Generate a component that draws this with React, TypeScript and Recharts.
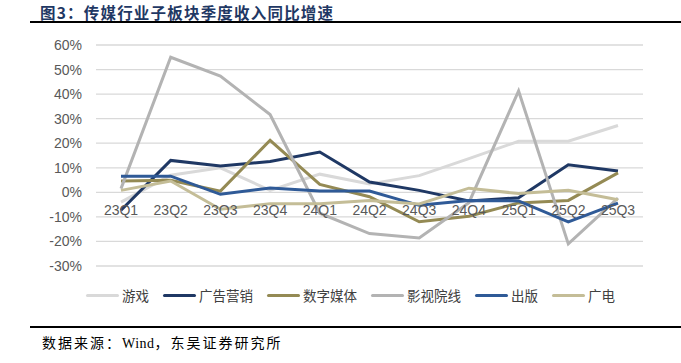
import { LineChart, Line, XAxis, YAxis, CartesianGrid } from 'recharts'

const quarters = ['23Q1', '23Q2', '23Q3', '23Q4', '24Q1', '24Q2', '24Q3', '24Q4', '25Q1', '25Q2', '25Q3']

// 同比增速（%）
const youxi = [-4, 7, 10, 0.8, 7.4, 3.4, 6.8, 13.7, 20.8, 20.8, 27.2]
const guanggao = [-7.3, 13, 10.7, 12.6, 16.4, 4.2, 0.8, -3.5, -2.2, 11.2, 8.7]
const shuzi = [4.6, 4.9, 0.5, 21.2, 3.2, -1.8, -12, -9.7, -4.3, -3.3, 7.9]
const yingshi = [1.5, 55, 47.3, 31.7, -8.5, -16.8, -18.6, -4.2, 41.3, -21, -2.4]
const chuban = [6.6, 6.6, -0.8, 1.8, 0.5, 0.5, -5.3, -3.3, -3.5, -12, -4.4]
const guangdian = [0.8, 4.6, -6.9, -4.6, -4.6, -3.3, -4.7, 1.7, -0.5, 0.8, -3]

const yTicks = [-30, -20, -10, 0, 10, 20, 30, 40, 50, 60]

const series = [
  { key: 'youxi', name: '游戏', color: '#d9d9d9', values: youxi },
  { key: 'guanggao', name: '广告营销', color: '#1f3864', values: guanggao },
  { key: 'shuzi', name: '数字媒体', color: '#948a54', values: shuzi },
  { key: 'yingshi', name: '影视院线', color: '#b3b3b3', values: yingshi },
  { key: 'chuban', name: '出版', color: '#2f5a97', values: chuban },
  { key: 'guangdian', name: '广电', color: '#c4bd97', values: guangdian },
]

const data = quarters.map((q, i) => {
  const row: Record<string, string | number> = { q }
  series.forEach(s => { row[s.key] = s.values[i] })
  return row
})

const cjk = '"Noto Sans CJK SC", sans-serif'
const arial = "Arial, 'Liberation Sans', sans-serif"

// x轴标签画在 0% 线下方（Excel 默认的横轴位置）
function QuarterTick({ x, y, payload }: { x?: number; y?: number; payload?: { value: string } }) {
  return (
    <text x={x} y={(y ?? 0) - 51} textAnchor="middle" fill="#595959" fontSize={14} fontFamily={arial}>
      {payload?.value}
    </text>
  )
}

function ChartLegend() {
  return (
    <div style={{ position: 'absolute', left: 20, width: 661, top: 285, display: 'flex', justifyContent: 'center', gap: 14, fontFamily: cjk, fontSize: 13.5, color: '#404040', lineHeight: '20px' }}>
      {series.map(s => (
        <div key={s.key} style={{ display: 'flex', alignItems: 'center', gap: 3 }}>
          <span style={{ display: 'inline-block', width: 33, height: 3, borderRadius: 2, background: s.color }} />
          <span>{s.name}</span>
        </div>
      ))}
    </div>
  )
}

export default function App() {
  return (
    <div style={{ position: 'fixed', left: 0, top: 0, width: 681, height: 363, background: '#fff', overflow: 'hidden' }}>
      <div style={{ position: 'absolute', left: 40, top: 1, fontFamily: cjk, fontWeight: 700, fontSize: 15.5, letterSpacing: 1.2, color: '#1f3864' }}>
        图3：传媒行业子板块季度收入同比增速
      </div>
      <div style={{ position: 'absolute', left: 30, right: 0, top: 21, height: 2, background: '#000' }} />

      <div style={{ position: 'absolute', left: 0, top: 0 }}>
        <LineChart width={681} height={363} data={data} margin={{ top: 45, right: 38, bottom: 77, left: 0 }}>
          <CartesianGrid vertical={false} stroke="#d9d9d9" strokeWidth={1.3} />
          <XAxis
            dataKey="q"
            axisLine={false}
            tickLine={false}
            tickSize={0}
            tickMargin={0}
            height={20}
            padding={{ left: 25, right: 25 }}
            tick={<QuarterTick />}
            interval={0}
          />
          <YAxis
            domain={[-30, 60]}
            ticks={yTicks}
            width={96}
            axisLine={false}
            tickLine={false}
            tickSize={0}
            tickMargin={14}
            tickFormatter={(v: number) => `${v}%`}
            tick={{ fill: '#595959', fontSize: 14, fontFamily: arial }}
          />
          {series.map(s => (
            <Line
              key={s.key}
              dataKey={s.key}
              name={s.name}
              stroke={s.color}
              strokeWidth={3}
              dot={false}
              type="linear"
              isAnimationActive={false}
            />
          ))}
        </LineChart>
      </div>

      <ChartLegend />

      <div style={{ position: 'absolute', left: 30, right: 0, top: 326, height: 2, background: '#000' }} />
      <div style={{ position: 'absolute', left: 42, top: 332, fontFamily: cjk, fontSize: 14, letterSpacing: 2, color: '#000' }}>
        数据来源：<span style={{ fontFamily: "'Liberation Serif', serif", letterSpacing: 0.5 }}>Wind</span>，东吴证券研究所
      </div>
    </div>
  )
}
